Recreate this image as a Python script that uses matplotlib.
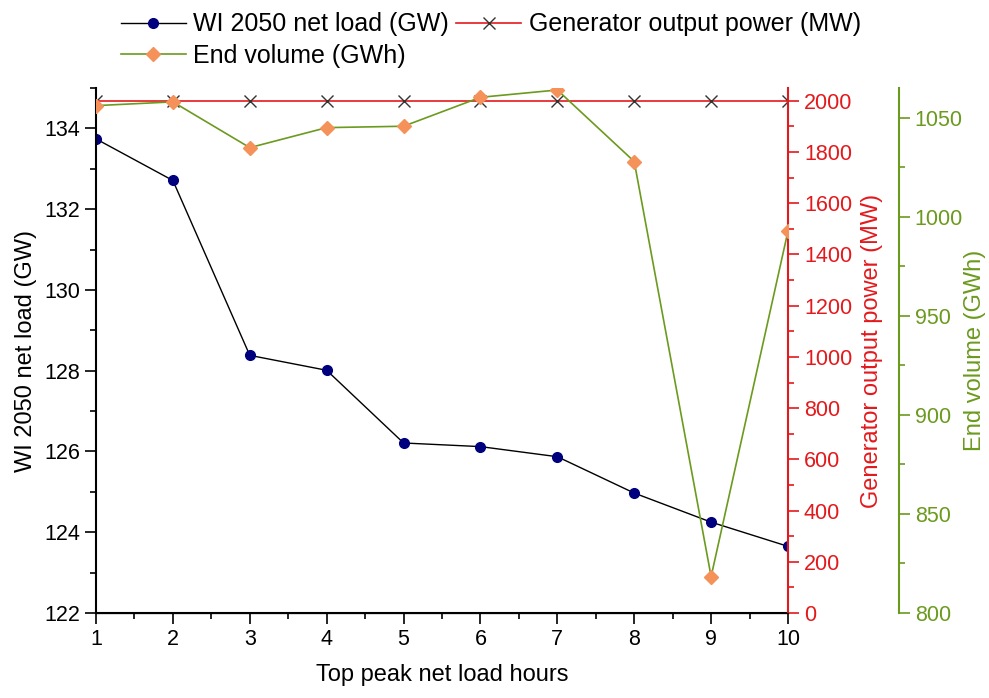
import matplotlib.pyplot as plt
from matplotlib.ticker import MultipleLocator

plt.rcParams['font.family'] = ['Liberation Sans', 'DejaVu Sans']

hours = [1, 2, 3, 4, 5, 6, 7, 8, 9, 10]
net_load = [133.74, 132.71, 128.38, 128.01, 126.21, 126.12, 125.87, 124.97, 124.25, 123.65]
gen_power = [2000, 2000, 2000, 2000, 2000, 2000, 2000, 2000, 2000, 2000]
end_volume = [1056.1, 1058.0, 1034.9, 1045.0, 1045.7, 1060.3, 1064.0, 1027.9, 818.4, 992.8]

red = '#e3191c'
green = '#6b9a1e'
orange = '#f4925a'

fig = plt.figure(figsize=(9.89, 6.98), dpi=100)
ax = fig.add_axes([96 / 989, 85 / 698, 692 / 989, 525 / 698])
ax2 = ax.twinx()
ax3 = ax.twinx()

l1, = ax.plot(hours, net_load, color='black', lw=1, marker='o', ms=7,
              mfc='#00007f', mec='#00007f', label='WI 2050 net load (GW)')
l2, = ax2.plot(hours, gen_power, color=red, lw=1.2, marker='x', ms=9,
               mec='#333333', mew=1, label='Generator output power (MW)')
l3, = ax3.plot(hours, end_volume, color=green, lw=1.2, marker='D', ms=7,
               mfc=orange, mec=orange, label='End volume (GWh)')

ax.set_xlim(1, 10)
ax.set_ylim(122, 135)
ax2.set_ylim(0, 2050)
ax3.set_ylim(800, 1065)

ax.xaxis.set_major_locator(MultipleLocator(1))
ax.xaxis.set_minor_locator(MultipleLocator(0.5))
ax.yaxis.set_major_locator(MultipleLocator(2))
ax.yaxis.set_minor_locator(MultipleLocator(1))
ax2.yaxis.set_major_locator(MultipleLocator(200))
ax2.yaxis.set_minor_locator(MultipleLocator(100))
ax3.yaxis.set_major_locator(MultipleLocator(50))
ax3.yaxis.set_minor_locator(MultipleLocator(25))

for a in (ax, ax2, ax3):
    a.spines['top'].set_visible(False)
    a.tick_params(which='major', length=8, width=1.2, labelsize=15.5)
    a.tick_params(which='minor', length=4, width=1.2)

ax.spines['right'].set_visible(False)
ax.spines['left'].set_linewidth(1.5)
ax.spines['bottom'].set_linewidth(1.5)
ax2.spines['left'].set_visible(False)
ax2.spines['right'].set_color(red)
ax2.spines['right'].set_linewidth(1.5)
ax2.tick_params(which='both', colors=red)
ax3.spines['left'].set_visible(False)
ax3.spines['right'].set_position(('axes', 1.16))
ax3.spines['right'].set_color(green)
ax3.spines['right'].set_linewidth(1.5)
ax3.tick_params(which='both', colors=green)

ax.set_xlabel('Top peak net load hours', fontsize=17, labelpad=10)
ax.set_ylabel('WI 2050 net load (GW)', fontsize=17, labelpad=5)
ax2.set_ylabel('Generator output power (MW)', fontsize=17, color=red, labelpad=6)
ax3.set_ylabel('End volume (GWh)', fontsize=17, color=green, labelpad=1)

# column-wise fill: blue + green in column 1, red in column 2
fig.legend(handles=[l1, l3, l2], loc='upper left', bbox_to_anchor=(108 / 989, 1.0),
           ncol=2, frameon=False, fontsize=18, handlelength=2.6,
           handletextpad=0.3, columnspacing=0.3, labelspacing=0.3,
           borderaxespad=0.1)

fig.savefig('out.png', dpi=100)
